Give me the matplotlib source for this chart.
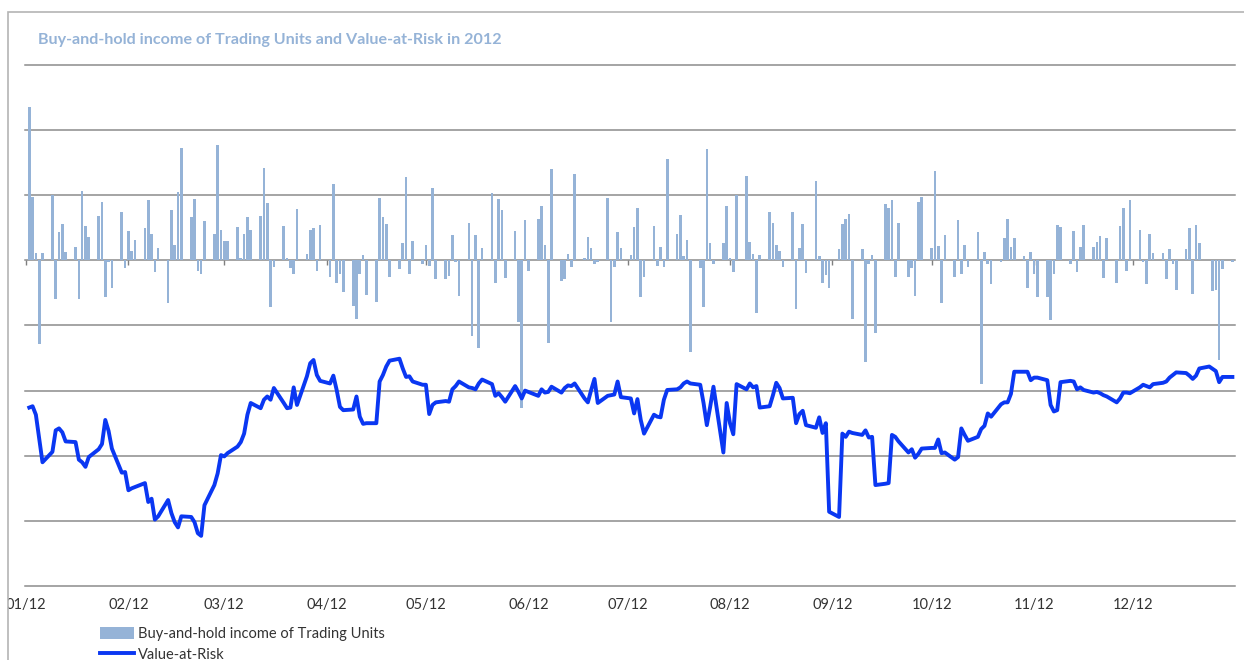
import numpy as np
import matplotlib.pyplot as plt
from matplotlib.patches import Rectangle, Patch
from matplotlib.lines import Line2D
from matplotlib.transforms import Bbox, TransformedBbox

# daily buy-and-hold income (trading days of 2012)
bar_days = [
    "01-02", "01-03", "01-04", "01-05", "01-06", "01-09", "01-10", "01-11", "01-12", "01-13",
    "01-16", "01-17", "01-18", "01-19", "01-20", "01-23", "01-24", "01-25", "01-26", "01-27",
    "01-30", "01-31", "02-01", "02-02", "02-03", "02-06", "02-07", "02-08", "02-09", "02-10",
    "02-13", "02-14", "02-15", "02-16", "02-17", "02-20", "02-21", "02-22", "02-23", "02-24",
    "02-27", "02-28", "02-29", "03-01", "03-02", "03-05", "03-06", "03-07", "03-08", "03-09",
    "03-12", "03-13", "03-14", "03-15", "03-16", "03-19", "03-20", "03-21", "03-22", "03-23",
    "03-26", "03-27", "03-28", "03-29", "03-30", "04-02", "04-03", "04-04", "04-05", "04-06",
    "04-09", "04-10", "04-11", "04-12", "04-13", "04-16", "04-17", "04-18", "04-19", "04-20",
    "04-23", "04-24", "04-25", "04-26", "04-27", "04-30", "05-01", "05-02", "05-03", "05-04",
    "05-07", "05-08", "05-09", "05-10", "05-11", "05-14", "05-15", "05-16", "05-17", "05-18",
    "05-21", "05-22", "05-23", "05-24", "05-25", "05-28", "05-29", "05-30", "05-31", "06-01",
    "06-04", "06-05", "06-06", "06-07", "06-08", "06-11", "06-12", "06-13", "06-14", "06-15",
    "06-18", "06-19", "06-20", "06-21", "06-22", "06-25", "06-26", "06-27", "06-28", "06-29",
    "07-02", "07-03", "07-04", "07-05", "07-06", "07-09", "07-10", "07-11", "07-12", "07-13",
    "07-16", "07-17", "07-18", "07-19", "07-20", "07-23", "07-24", "07-25", "07-26", "07-27",
    "07-30", "07-31", "08-01", "08-02", "08-03", "08-06", "08-07", "08-08", "08-09", "08-10",
    "08-13", "08-14", "08-15", "08-16", "08-17", "08-20", "08-21", "08-22", "08-23", "08-24",
    "08-27", "08-28", "08-29", "08-30", "08-31", "09-03", "09-04", "09-05", "09-06", "09-07",
    "09-10", "09-11", "09-12", "09-13", "09-14", "09-17", "09-18", "09-19", "09-20", "09-21",
    "09-24", "09-25", "09-26", "09-27", "09-28", "10-01", "10-02", "10-03", "10-04", "10-05",
    "10-08", "10-09", "10-10", "10-11", "10-12", "10-15", "10-16", "10-17", "10-18", "10-19",
    "10-22", "10-23", "10-24", "10-25", "10-26", "10-29", "10-30", "10-31", "11-01", "11-02",
    "11-05", "11-06", "11-07", "11-08", "11-09", "11-12", "11-13", "11-14", "11-15", "11-16",
    "11-19", "11-20", "11-21", "11-22", "11-23", "11-26", "11-27", "11-28", "11-29", "11-30",
    "12-03", "12-04", "12-05", "12-06", "12-07", "12-10", "12-11", "12-12", "12-13", "12-14",
    "12-17", "12-18", "12-19", "12-20", "12-21", "12-25", "12-26", "12-27", "12-28", "12-31",
]
bar_values = [
    2.35, 0.97, 0.11, -1.29, 0.11, 1.01, -0.59, 0.43, 0.56, 0.13,
    0.21, -0.59, 1.07, 0.53, 0.36, 0.68, 0.90, -0.56, -0.02, -0.42,
    0.75, -0.12, 0.45, 0.15, 0.32, 0.49, 0.92, 0.41, -0.18, 0.19,
    -0.66, 0.77, 0.23, 1.05, 1.72, 0.66, 0.94, -0.16, -0.21, 0.60,
    0.41, 1.77, 0.46, 0.30, 0.30, 0.51, 0.03, 0.41, 0.66, 0.46,
    0.68, 1.42, 0.88, -0.72, -0.10, 0.53, 0.03, -0.12, -0.21, 0.79,
    0.10, 0.46, 0.49, -0.16, 0.55, -0.25, 1.18, -0.34, -0.21, -0.49,
    -0.70, -0.90, -0.21, 0.08, -0.53, -0.64, 0.96, 0.66, 0.56, -0.25,
    -0.14, 0.27, 1.28, -0.21, 0.30, -0.05, 0.24, -0.09, 1.11, -0.28,
    -0.29, -0.24, 0.39, -0.03, -0.54, 0.58, -1.16, 0.39, -1.34, 0.19,
    1.04, -0.34, 0.94, 0.77, -0.27, 0.45, -0.95, -2.26, 0.62, -0.17,
    0.64, 0.83, 0.24, -1.27, 1.40, -0.31, -0.29, 0.10, -0.10, 1.33,
    0.04, 0.36, 0.19, -0.05, -0.03, 0.96, -0.95, -0.10, 0.43, 0.19,
    0.08, 0.51, 0.80, -0.57, -0.25, 0.53, -0.09, 0.21, -0.10, 1.56,
    0.41, 0.69, 0.06, 0.32, -1.41, -0.12, -0.72, 1.71, 0.27, -0.05,
    0.27, 0.83, 0.04, -0.18, 1.01, 1.29, 0.28, 0.10, -0.81, 0.08,
    0.75, 0.58, 0.23, 0.15, -0.10, 0.75, -0.75, 0.19, 0.56, -0.19,
    1.22, 0.06, -0.34, -0.23, -0.43, 0.17, 0.56, 0.64, 0.71, -0.90,
    0.17, -1.56, -0.06, 0.08, -1.11, 0.86, 0.80, 0.93, -0.25, 0.58,
    -0.25, -0.12, -0.55, 0.90, 0.97, 0.19, 1.37, 0.22, -0.66, 0.39,
    -0.25, 0.62, -0.21, 0.24, -0.10, 0.43, -1.90, 0.13, -0.05, -0.37,
    -0.03, 0.34, 0.64, 0.21, 0.34, 0.06, -0.43, 0.13, -0.21, -0.57,
    -0.57, -0.92, -0.21, 0.55, 0.51, -0.05, 0.45, -0.18, 0.21, 0.55,
    0.21, 0.28, 0.38, -0.27, 0.34, -0.34, 0.53, 0.80, -0.16, 0.92,
    0.47, -0.03, -0.37, 0.41, 0.12, 0.12, -0.29, 0.17, -0.05, -0.46,
    0.17, 0.49, -0.51, 0.55, 0.27, -0.47, -0.45, -1.53, -0.14, -0.03,
]

# Value-at-Risk
var_days = [
    "01-02", "01-03", "01-04", "01-06", "01-09", "01-10", "01-11", "01-12", "01-13", "01-16",
    "01-17", "01-18", "01-19", "01-20", "01-23", "01-24", "01-25", "01-26", "01-27", "01-30",
    "01-31", "02-01", "02-02", "02-03", "02-06", "02-07", "02-08", "02-09", "02-10", "02-13",
    "02-14", "02-15", "02-16", "02-17", "02-20", "02-21", "02-22", "02-23", "02-24", "02-27",
    "02-28", "02-29", "03-01", "03-02", "03-05", "03-06", "03-07", "03-08", "03-09", "03-12",
    "03-13", "03-14", "03-15", "03-16", "03-19", "03-20", "03-21", "03-22", "03-23", "03-26",
    "03-27", "03-28", "03-29", "03-30", "04-02", "04-03", "04-04", "04-05", "04-06", "04-09",
    "04-10", "04-11", "04-12", "04-13", "04-16", "04-17", "04-18", "04-19", "04-20", "04-23",
    "04-24", "04-25", "04-26", "04-27", "04-30", "05-01", "05-02", "05-03", "05-04", "05-07",
    "05-08", "05-09", "05-10", "05-11", "05-14", "05-15", "05-16", "05-17", "05-18", "05-21",
    "05-22", "05-23", "05-24", "05-25", "05-28", "05-29", "05-30", "05-31", "06-01", "06-04",
    "06-05", "06-06", "06-07", "06-08", "06-11", "06-12", "06-13", "06-14", "06-15", "06-18",
    "06-19", "06-20", "06-21", "06-22", "06-25", "06-26", "06-27", "06-28", "06-29", "07-02",
    "07-03", "07-04", "07-05", "07-06", "07-09", "07-10", "07-11", "07-12", "07-13", "07-16",
    "07-17", "07-18", "07-19", "07-20", "07-23", "07-24", "07-25", "07-26", "07-27", "07-30",
    "07-31", "08-01", "08-02", "08-03", "08-06", "08-07", "08-08", "08-09", "08-10", "08-13",
    "08-14", "08-15", "08-16", "08-17", "08-20", "08-21", "08-22", "08-23", "08-24", "08-27",
    "08-28", "08-29", "08-30", "08-31", "09-03", "09-04", "09-05", "09-06", "09-07", "09-10",
    "09-11", "09-12", "09-13", "09-14", "09-17", "09-18", "09-19", "09-20", "09-21", "09-24",
    "09-25", "09-26", "09-27", "09-28", "10-01", "10-02", "10-03", "10-04", "10-05", "10-08",
    "10-09", "10-10", "10-11", "10-12", "10-15", "10-16", "10-17", "10-18", "10-19", "10-22",
    "10-23", "10-24", "10-25", "10-26", "10-29", "10-30", "10-31", "11-01", "11-02", "11-05",
    "11-06", "11-07", "11-08", "11-09", "11-12", "11-13", "11-14", "11-15", "11-16", "11-19",
    "11-20", "11-21", "11-22", "11-23", "11-26", "11-27", "11-28", "11-29", "11-30", "12-03",
    "12-04", "12-05", "12-06", "12-07", "12-10", "12-11", "12-12", "12-13", "12-14", "12-17",
    "12-18", "12-19", "12-20", "12-21", "12-24", "12-26", "12-27", "12-28", "12-31",
]
var_values = [
    -2.26, -2.24, -2.37, -3.10, -2.94, -2.61, -2.58, -2.64, -2.78, -2.79,
    -3.06, -3.10, -3.17, -3.02, -2.90, -2.82, -2.45, -2.62, -2.89, -3.26,
    -3.25, -3.53, -3.50, -3.48, -3.42, -3.71, -3.66, -3.98, -3.93, -3.68,
    -3.88, -4.02, -4.10, -3.93, -3.94, -4.02, -4.19, -4.23, -3.76, -3.45,
    -3.27, -2.99, -3.01, -2.96, -2.86, -2.79, -2.66, -2.37, -2.19, -2.27,
    -2.14, -2.09, -2.14, -1.96, -2.19, -2.27, -2.26, -1.95, -2.22, -1.78,
    -1.58, -1.53, -1.76, -1.85, -1.89, -1.77, -1.99, -2.25, -2.30, -2.29,
    -2.09, -2.40, -2.51, -2.50, -2.50, -1.86, -1.76, -1.63, -1.54, -1.51,
    -1.66, -1.79, -1.78, -1.86, -1.91, -1.91, -2.36, -2.22, -2.18, -2.16,
    -2.17, -1.98, -1.93, -1.86, -1.95, -1.96, -1.98, -1.89, -1.83, -1.90,
    -2.08, -2.04, -2.10, -2.17, -1.93, -2.02, -2.12, -2.00, -2.02, -2.08,
    -1.98, -2.03, -2.02, -1.94, -2.03, -1.96, -1.92, -1.93, -1.89, -2.12,
    -2.18, -1.99, -1.82, -2.19, -2.08, -2.07, -2.06, -1.86, -2.10, -2.12,
    -2.35, -2.13, -2.45, -2.66, -2.37, -2.40, -2.41, -2.14, -1.99, -1.98,
    -1.95, -1.89, -1.86, -1.89, -1.91, -2.19, -2.53, -2.25, -1.94, -2.95,
    -2.19, -2.50, -2.67, -1.90, -1.98, -1.89, -1.95, -1.93, -2.26, -2.24,
    -2.07, -1.88, -1.96, -2.12, -2.11, -2.50, -2.36, -2.31, -2.53, -2.57,
    -2.41, -2.65, -2.50, -3.86, -3.94, -2.66, -2.71, -2.63, -2.65, -2.68,
    -2.61, -2.72, -2.71, -3.45, -3.43, -3.42, -2.68, -2.71, -2.78, -2.95,
    -2.90, -3.03, -2.97, -2.89, -2.88, -2.88, -2.75, -2.96, -2.95, -3.06,
    -3.02, -2.58, -2.68, -2.77, -2.71, -2.59, -2.54, -2.35, -2.40, -2.21,
    -2.18, -2.18, -2.05, -1.71, -1.71, -1.71, -1.84, -1.80, -1.80, -1.84,
    -2.22, -2.32, -2.30, -1.87, -1.85, -1.86, -1.98, -1.95, -1.99, -2.03,
    -2.02, -2.04, -2.07, -2.09, -2.18, -2.12, -2.03, -2.03, -2.04, -1.95,
    -1.91, -1.93, -1.95, -1.90, -1.88, -1.86, -1.80, -1.76, -1.72, -1.73,
    -1.77, -1.82, -1.77, -1.66, -1.63, -1.70, -1.87, -1.79, -1.79,
]

month_labels = ["01/12", "02/12", "03/12", "04/12", "05/12", "06/12",
                "07/12", "08/12", "09/12", "10/12", "11/12", "12/12"]
grid_levels = [-5, -4, -3, -2, -1, 0, 1, 2, 3]

title = "Buy-and-hold income of Trading Units and Value-at-Risk in 2012"
bar_label = "Buy-and-hold income of Trading Units"
var_label = "Value-at-Risk"

bar_color = "#95B3D7"
var_color = "#0A37F2"
grid_color = "#8C8C8C"
text_color = "#333333"

plt.rcParams['font.family'] = ['Lato', 'DejaVu Sans']

bar_dates = np.array(["2012-" + d for d in bar_days], dtype="datetime64[D]")
var_dates = np.array(["2012-" + d for d in var_days], dtype="datetime64[D]")
month_starts = np.arange("2012-01", "2013-01", dtype="datetime64[M]").astype("datetime64[D]")

W, H = 1244, 660
fig = plt.figure(figsize=(W / 100, H / 100), dpi=100)
ax = fig.add_axes([25 / W, (H - 586) / H, (1235 - 25) / W, (586 - 65) / H])

for lvl in grid_levels:
    ax.axhline(lvl, color=grid_color, lw=1.1, zorder=0, clip_on=False)

ax.bar(bar_dates, bar_values, width=0.8, color=bar_color, zorder=2)
ax.plot(var_dates, var_values, color=var_color, lw=2.8, zorder=3,
        solid_joinstyle='round')

# small tick marks on the zero axis
ax.vlines(month_starts, -0.07, 0, color="#7F7F7F", lw=1.0, zorder=1)

t0 = np.datetime64("2012-01-01")
ax.set_xlim(t0 - np.timedelta64(7, 'h'), t0 + np.timedelta64(int(365.8 * 24), 'h'))
ax.set_ylim(min(grid_levels), max(grid_levels))

ax.set_xticks(month_starts)
ax.set_xticklabels(month_labels)
ax.tick_params(axis='x', length=0, pad=9, labelsize=10.5, labelcolor=text_color)
ax.set_yticks([])
for s in ax.spines.values():
    s.set_visible(False)

# chart area clips the first label at its left border
clip = TransformedBbox(Bbox([[8 / W, 0], [1, 1]]), fig.transFigure)
for tick in ax.xaxis.get_major_ticks():
    tick.label1.set_clip_box(clip)
    tick.label1.set_clip_on(True)

fig.text(38 / W, 1 - 40 / H, title, color="#95B3D7", fontsize=11.6,
         fontweight='bold', va='center', ha='left')

# chart border
fig.patches.append(Rectangle((8 / W, -0.1), 1.2, 1.1 - 12 / H,
                             transform=fig.transFigure, fill=False,
                             edgecolor="#B4B4B4", lw=1.2))

handles = [Patch(facecolor=bar_color, edgecolor='none'),
           Line2D([], [], color=var_color, lw=2.8)]
fig.legend(handles, [bar_label, var_label], loc='upper left',
           bbox_to_anchor=(100 / W, 1 - 627 / H), frameon=False, fontsize=10.5,
           labelcolor=text_color, borderpad=0, borderaxespad=0,
           handlelength=2.3, handleheight=0.9, handletextpad=0.3,
           labelspacing=0.45)

fig.savefig("out.png", dpi=100)
